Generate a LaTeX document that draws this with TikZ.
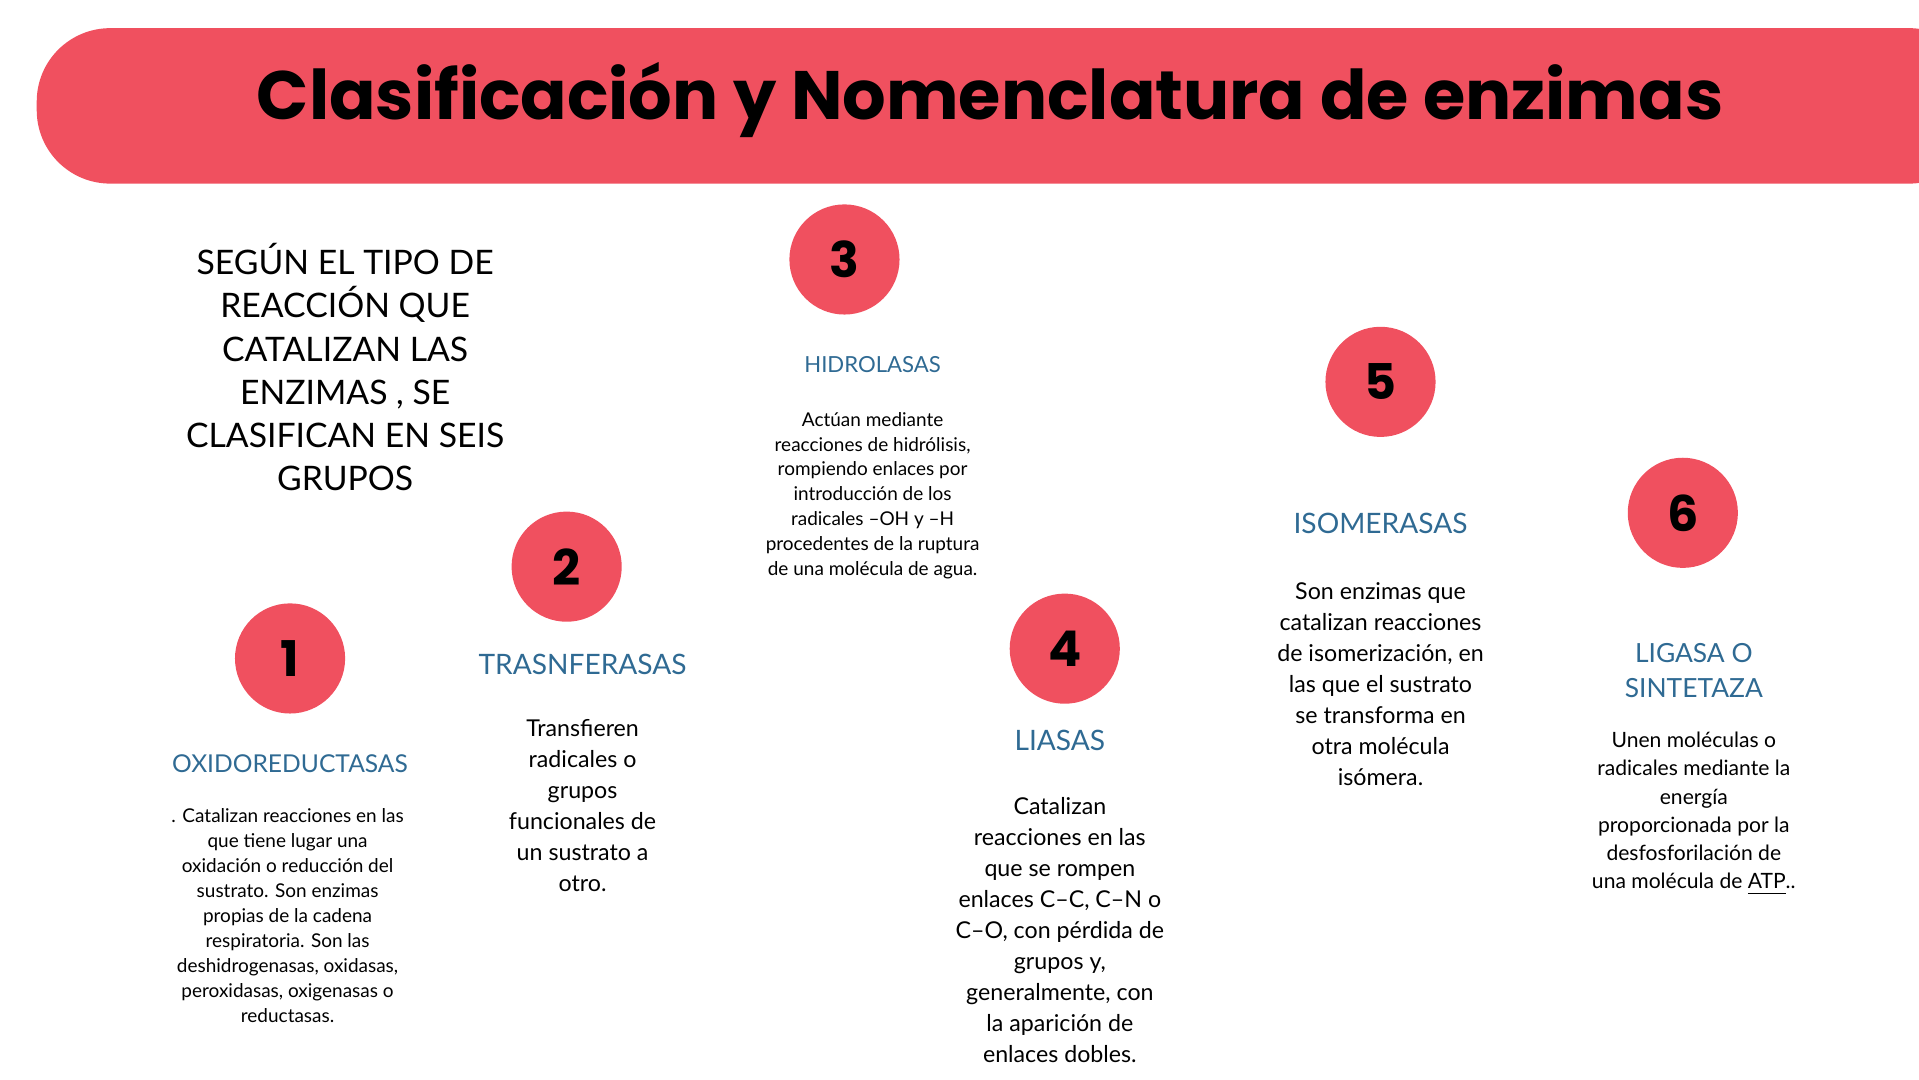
\documentclass[tikz,border=0pt]{standalone}
\usepackage{fontspec}
\setmainfont{Lato}
\newfontfamily\titlefont{Poppins}[BoldFont={* Bold}]
\definecolor{hred}{HTML}{F0505F}
\definecolor{hblue}{HTML}{2F6A93}
\begin{document}
\begin{tikzpicture}[x=0.012238cm,y=-0.012238cm,
 num/.style={circle,fill=hred,minimum size=90*0.012238cm,inner sep=0pt,font=\titlefont\bfseries\fontsize{14}{14}\selectfont},
 head/.style={text=hblue,align=center,font=\fontsize{7}{10.5}\selectfont},
 small/.style={align=center,font=\fontsize{5.4}{7.1}\selectfont},
 mid/.style={align=center,font=\fontsize{6.6}{8.8}\selectfont}]
\useasboundingbox (0,0) rectangle (1568,882);
\fill[hred,rounded corners=60*0.012238cm] (30,23) rectangle (1620,150);
\node (title) at (809,82) {\titlefont\bfseries\fontsize{19.5}{20}\selectfont Clasificación y Nomenclatura de enzimas};
\node[align=center,font=\fontsize{9.6}{12.3}\selectfont] (intro) at (282,300) {SEGÚN EL TIPO DE\\REACCIÓN QUE\\CATALIZAN LAS\\ENZIMAS , SE\\CLASIFICAN EN SEIS\\GRUPOS};
\node[num] (n1) at (237,538) {1};
\node[num] (n2) at (463,463) {2};
\node[num] (n3) at (690,212) {3};
\node[num] (n4) at (870,530) {4};
\node[num] (n5) at (1128,312) {5};
\node[num] (n6) at (1375,419) {6};
\node[head] (h1) at (237,624) {OXIDOREDUCTASAS};
\node[head,font=\fontsize{8}{10}\selectfont] (h2) at (476,543) {TRASNFERASAS};
\node[head,font=\fontsize{6.3}{9}\selectfont] (h3) at (713,298) {HIDROLASAS};
\node[head,font=\fontsize{8}{10}\selectfont] (h4) at (866,605) {LIASAS};
\node[head,font=\fontsize{8}{10}\selectfont] (h5) at (1128,428) {ISOMERASAS};
\node[head,font=\fontsize{7.5}{10}\selectfont] (h6) at (1384,548) {LIGASA O\\SINTETAZA};
\node[small] (d1) at (235,748) {. Catalizan reacciones en las\\que tiene lugar una\\oxidación o reducción del\\sustrato. Son enzimas\\propias de la cadena\\respiratoria. Son las\\deshidrogenasas, oxidasas,\\peroxidasas, oxigenasas o\\reductasas.};
\node[mid] (d2) at (476,658) {Transfieren\\radicales o\\grupos\\funcionales de\\un sustrato a\\otro.};
\node[small] (d3) at (713,405) {Actúan mediante\\reacciones de hidrólisis,\\rompiendo enlaces por\\introducción de los\\radicales –OH y –H\\procedentes de la ruptura\\de una molécula de agua.};
\node[mid] (d4) at (866,760) {Catalizan\\reacciones en las\\que se rompen\\enlaces C–C, C–N o\\C–O, con pérdida de\\grupos y,\\generalmente, con\\la aparición de\\enlaces dobles.};
\node[mid] (d5) at (1128,559) {Son enzimas que\\catalizan reacciones\\de isomerización, en\\las que el sustrato\\se transforma en\\otra molécula\\isómera.};
\node[align=center,font=\fontsize{6}{8}\selectfont] (d6) at (1384,665) {Unen moléculas o\\radicales mediante la\\energía\\proporcionada por la\\desfosforilación de\\una molécula de \underline{ATP}..};
\end{tikzpicture}
\end{document}
